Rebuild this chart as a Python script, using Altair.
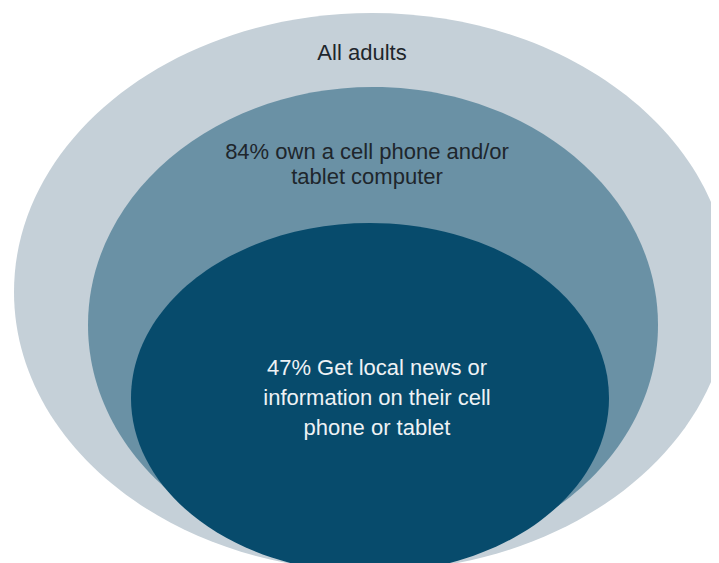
import altair as alt
import pandas as pd

# ---- chart content -------------------------------------------------------
labels = [
    "All adults",
    "84% own a cell phone and/or\ntablet computer",
    "47% Get local news or\ninformation on their cell\nphone or tablet",
]
shares = [100, 84, 47]

# ---- layout (diagram coordinates, same frame as the reference picture) ---
ell_cx = [372, 373, 370]
ell_cy = [292, 325, 398]
ell_rx = [358, 285, 239]
ell_ry = [279, 238, 175]
fills = ["#c5d0d8", "#6a91a5", "#074b6c"]

text_x = [362, 367, 377]
text_y = [53, 152, 368]   # centre of first line
text_lh = [25, 25, 30]
text_colors = ["#1e262c", "#1e262c", "#eef2f5"]

K = 0.5523


def ellipse_path(b):
    kb = K * b
    return (
        f"M -1 0 C -1 {-kb:.4f} {-K} {-b:.4f} 0 {-b:.4f} "
        f"C {K} {-b:.4f} 1 {-kb:.4f} 1 0 "
        f"C 1 {kb:.4f} {K} {b:.4f} 0 {b:.4f} "
        f"C {-K} {b:.4f} -1 {kb:.4f} -1 0 Z"
    )


rows = []
for i in range(3):
    rows.append(
        dict(
            order=i,
            label=labels[i],
            share=shares[i],
            cx=ell_cx[i],
            cy=ell_cy[i],
            shape=ellipse_path(ell_ry[i] / ell_rx[i]),
            size=(2 * ell_rx[i]) ** 2,
            fill=fills[i],
            tx=text_x[i],
            ty=text_y[i],
            tcolor=text_colors[i],
        )
    )
df = pd.DataFrame(rows)

W, H = 703, 555
xs = alt.Scale(domain=[8, 8 + W], nice=False, zero=False)
ys = alt.Scale(domain=[8, 8 + H], nice=False, zero=False, reverse=True)

base = alt.Chart(df)

ellipses = base.mark_point(filled=True, opacity=1, strokeWidth=0).encode(
    x=alt.X("cx:Q", scale=xs, axis=None),
    y=alt.Y("cy:Q", scale=ys, axis=None),
    shape=alt.Shape("shape:N", scale=None, legend=None),
    size=alt.Size("size:Q", scale=None, legend=None),
    fill=alt.Fill("fill:N", scale=None, legend=None),
    order=alt.Order("order:Q"),
)

text_layers = []
for i in range(3):
    t = (
        base.transform_filter(alt.datum.order == i)
        .mark_text(
            lineBreak="\n",
            lineHeight=text_lh[i],
            font="Liberation Sans",
            fontSize=22,
            align="center",
            baseline="middle",
        )
        .encode(
            x=alt.X("tx:Q", scale=xs, axis=None),
            y=alt.Y("ty:Q", scale=ys, axis=None),
            text="label:N",
            color=alt.Color("tcolor:N", scale=None, legend=None),
        )
    )
    text_layers.append(t)

chart = (
    alt.layer(ellipses, *text_layers)
    .properties(width=W, height=H, padding=0, autosize=alt.AutoSizeParams(type="none"))
    .configure_view(stroke=None)
)

chart.save("out.html", embed_options={"renderer": "svg", "actions": False})
